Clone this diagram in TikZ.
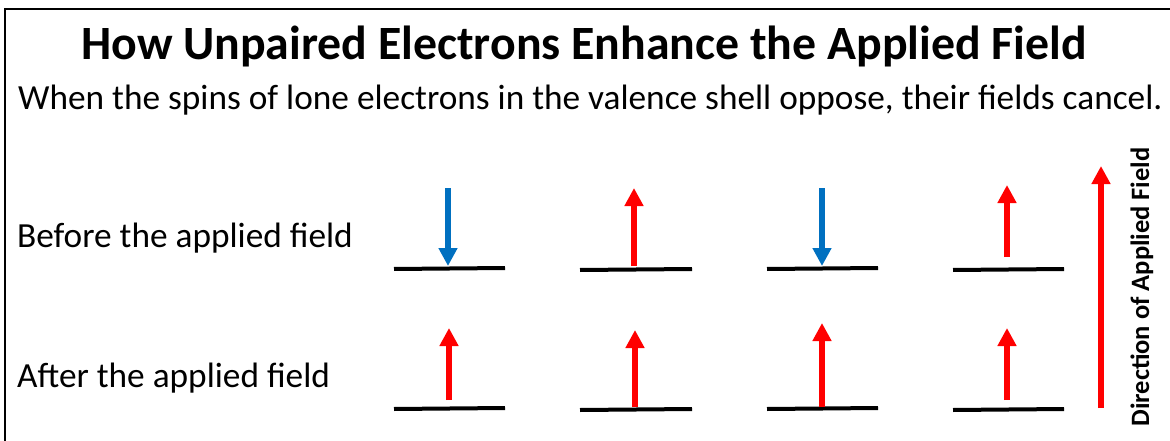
\documentclass[tikz,border=0pt]{standalone}
\usepackage{fontspec}
\setmainfont{Carlito}
\usetikzlibrary{arrows.meta}

\definecolor{spinred}{RGB}{255,0,0}
\definecolor{spinblue}{RGB}{0,112,192}

\tikzset{
    level/.style={line width=4pt, black},
    spin/.style={line width=6pt, -{Triangle[width=18pt,length=18pt]}},
    spinup/.style={spin, spinred},
    spindown/.style={spin, spinblue},
    rowlabel/.style={anchor=base west, inner sep=0pt, font=\fontsize{35.3}{42}\selectfont},
}

\begin{document}
\begin{tikzpicture}[x=1pt, y=-1pt]
    \useasboundingbox (0,0) rectangle (1170,441);

    % frame (cut off on the right and at the bottom)
    \draw[line width=2pt] (5,470) -- (5,9) -- (1200,9);

    % title and subtitle
    \node[anchor=base, inner sep=0pt, font=\bfseries\fontsize{47.8}{56}\selectfont] (title) at (584,60) {How Unpaired Electrons Enhance the Applied Field};
    \node[anchor=base west, inner sep=0pt, font=\fontsize{35.3}{42}\selectfont] (subtitle) at (18,110) {When the spins of lone electrons in the valence shell oppose, their fields cancel.};

    % row labels
    \node[rowlabel] (before) at (17,247) {Before the applied field};
    \node[rowlabel] (after) at (17,387) {After the applied field};

    % orbital levels, before
    \coordinate (b1l) at (394,269); \coordinate (b1r) at (505,268);
    \coordinate (b2l) at (580,270); \coordinate (b2r) at (692,269);
    \coordinate (b3l) at (767,269); \coordinate (b3r) at (878,268);
    \coordinate (b4l) at (953,270); \coordinate (b4r) at (1064,269);
    \draw[level] (b1l) -- (b1r);
    \draw[level] (b2l) -- (b2r);
    \draw[level] (b3l) -- (b3r);
    \draw[level] (b4l) -- (b4r);

    % orbital levels, after
    \coordinate (a1l) at (394,409); \coordinate (a1r) at (505,408);
    \coordinate (a2l) at (580,410); \coordinate (a2r) at (692,409);
    \coordinate (a3l) at (767,409); \coordinate (a3r) at (878,408);
    \coordinate (a4l) at (953,410); \coordinate (a4r) at (1064,409);
    \draw[level] (a1l) -- (a1r);
    \draw[level] (a2l) -- (a2r);
    \draw[level] (a3l) -- (a3r);
    \draw[level] (a4l) -- (a4r);

    % spins before the field
    \coordinate (s1t) at (448,188); \coordinate (s1b) at (448,266);
    \coordinate (s2t) at (634,188); \coordinate (s2b) at (634,266);
    \coordinate (s3t) at (822,188); \coordinate (s3b) at (822,266);
    \coordinate (s4t) at (1007,185); \coordinate (s4b) at (1007,257);
    \draw[spindown] (s1t) -- (s1b);
    \draw[spinup] (s2b) -- (s2t);
    \draw[spindown] (s3t) -- (s3b);
    \draw[spinup] (s4b) -- (s4t);

    % spins after the field
    \coordinate (t1t) at (449,328); \coordinate (t1b) at (449,400);
    \coordinate (t2t) at (635,330); \coordinate (t2b) at (635,407);
    \coordinate (t3t) at (822,323); \coordinate (t3b) at (822,407);
    \coordinate (t4t) at (1007,328); \coordinate (t4b) at (1007,400);
    \draw[spinup] (t1b) -- (t1t);
    \draw[spinup] (t2b) -- (t2t);
    \draw[spinup] (t3b) -- (t3t);
    \draw[spinup] (t4b) -- (t4t);

    % applied field
    \coordinate (fieldbot) at (1101,408);
    \coordinate (fieldtop) at (1101,166);
    \draw[spinup] (fieldbot) -- (fieldtop);
    \node[rotate=90, inner sep=0pt, font=\bfseries\fontsize{26.5}{32}\selectfont] (fieldlabel) at (1142,287) {Direction of Applied Field};
\end{tikzpicture}
\end{document}
